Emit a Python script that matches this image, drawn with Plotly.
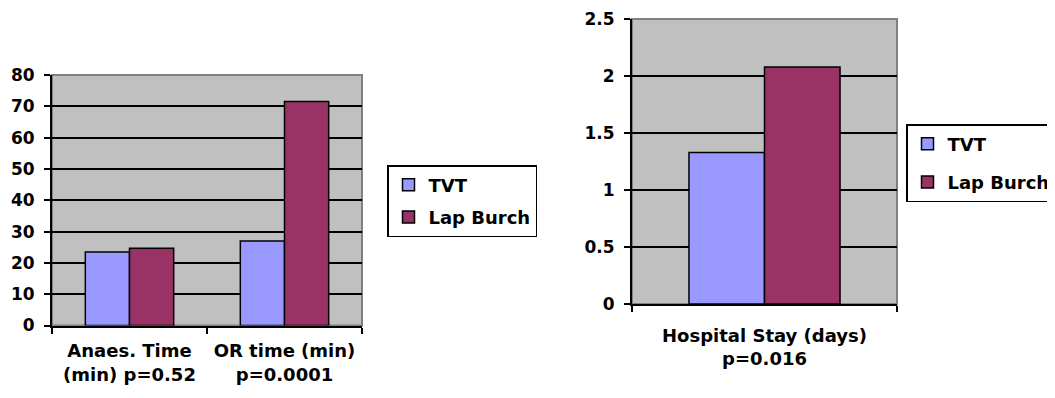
import plotly.graph_objects as go

W, H = 1055, 398
OFF = 8  # default page body margin in the written html

# Data
left_categories = ["Anaes. Time<br>(min) p=0.52", "OR time (min)<br>p=0.0001"]
left_tvt = [23.5, 27.0]
left_lap = [24.7, 71.5]

right_categories = ["Hospital Stay (days)<br>p=0.016"]
right_tvt = [1.33]
right_lap = [2.08]

series_names = ["TVT", "Lap Burch"]
left_ticks = [0, 10, 20, 30, 40, 50, 60, 70, 80]
right_ticks = [0, 0.5, 1, 1.5, 2, 2.5]

C_TVT = "#9999FF"
C_LAP = "#993366"
FONT = "DejaVu Sans, Arial, sans-serif"

def px_x(v):
    return (v - OFF) / W

def px_y(v):
    return 1 - (v - OFF) / H

fig = go.Figure()

line = dict(color="black", width=1.5)
fig.add_trace(go.Bar(x=left_categories, y=left_tvt, name=series_names[0], marker=dict(color=C_TVT, line=line),
                     xaxis="x", yaxis="y", legend="legend", legendgroup="a"))
fig.add_trace(go.Bar(x=left_categories, y=left_lap, name=series_names[1], marker=dict(color=C_LAP, line=line),
                     xaxis="x", yaxis="y", legend="legend", legendgroup="b"))
fig.add_trace(go.Bar(x=right_categories, y=right_tvt, name=series_names[0], marker=dict(color=C_TVT, line=line),
                     xaxis="x2", yaxis="y2", legend="legend2", legendgroup="c"))
fig.add_trace(go.Bar(x=right_categories, y=right_lap, name=series_names[1], marker=dict(color=C_LAP, line=line),
                     xaxis="x2", yaxis="y2", legend="legend2", legendgroup="d"))

tickfont = dict(family=FONT, size=18, color="black", weight="bold")
ytickfont = dict(family=FONT, size=17, color="black", weight="bold")

common_x = dict(showgrid=False, showline=True, linecolor="black", linewidth=2, ticks="outside",
                tickson="boundaries", ticklen=6, tickwidth=2, tickcolor="black", tickfont=tickfont,
                mirror=False, fixedrange=True, automargin=False)
common_y = dict(showgrid=True, gridcolor="black", gridwidth=2, showline=True, linecolor="black", linewidth=2,
                ticks="outside", ticklen=6, tickwidth=2, tickcolor="black", tickfont=ytickfont, zeroline=False,
                fixedrange=True, automargin=False, ticklabelstandoff=6)

legfont = dict(family=FONT, size=18, color="black", weight="bold")

fig.update_layout(
    template="none",
    width=W, height=H,
    margin=dict(l=0, r=0, t=0, b=0, autoexpand=False),
    paper_bgcolor="white",
    plot_bgcolor="#C0C0C0",
    barmode="group",
    bargap=0.43,
    bargroupgap=0,
    showlegend=True,
    xaxis=dict(domain=[px_x(52), px_x(362)], anchor="y", ticklabelstandoff=8, **common_x),
    yaxis=dict(domain=[px_y(325.5), px_y(75)], anchor="x", range=[0, 80], tickvals=left_ticks, **common_y),
    xaxis2=dict(domain=[px_x(632), px_x(897)], anchor="y2", ticklabelstandoff=14, **common_x),
    yaxis2=dict(domain=[px_y(304), px_y(19)], anchor="x2", range=[0, 2.5], tickvals=right_ticks,
                ticktext=[str(t) for t in right_ticks], **common_y),
    legend=dict(x=px_x(387), y=px_y(165), xanchor="left", yanchor="top",
                bgcolor="white", bordercolor="black", borderwidth=1.5, font=legfont,
                traceorder="grouped", tracegroupgap=6, itemwidth=30),
    legend2=dict(x=px_x(906), y=px_y(124), xanchor="left", yanchor="top",
                 bgcolor="white", bordercolor="black", borderwidth=1.5, font=legfont,
                 traceorder="grouped", tracegroupgap=12, itemwidth=30),
)

# plot-area outline (grey border as in the original)
for xa, ya in (("x", "y"), ("x2", "y2")):
    fig.add_shape(type="rect", xref=f"{xa} domain", yref=f"{ya} domain", x0=0, x1=1, y0=0, y1=1,
                  line=dict(color="#808080", width=2), layer="below")

fig.write_html("out.html")
